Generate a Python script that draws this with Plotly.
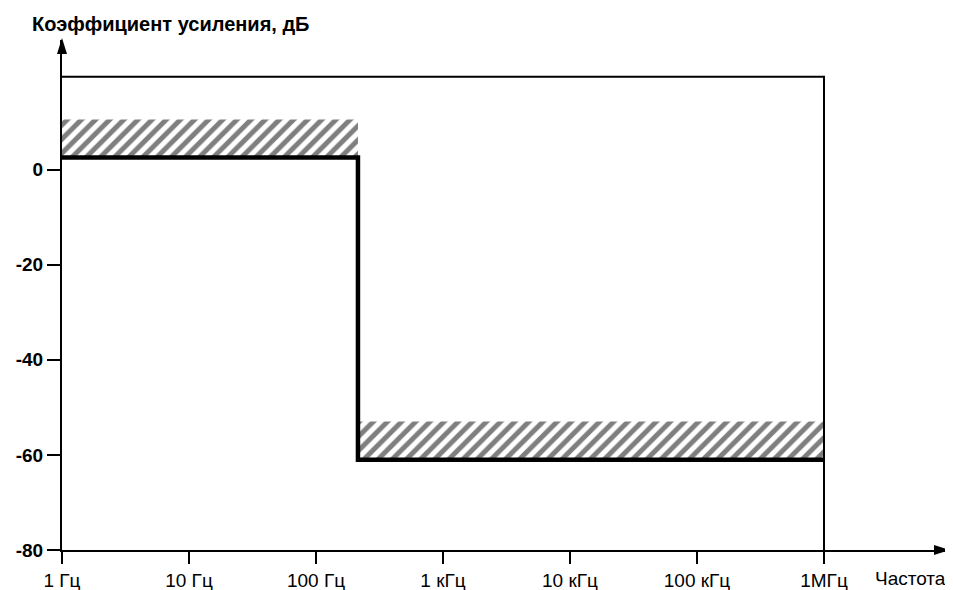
import plotly.graph_objects as go

# ---- data ----
freq_ticks = [1, 10, 100, 1e3, 1e4, 1e5, 1e6]
freq_tick_labels = ["1 Гц", "10 Гц", "100 Гц", "1 кГц", "10 кГц", "100 кГц", "1МГц"]
gain_ticks = [0, -20, -40, -60, -80]
gain_tick_labels = ["0", "-20", "-40", "-60", "-80"]

corner_freq = 214          # Hz, step position
f_start = 1                # Hz
f_stop = 1e6               # Hz
pass_gain = 2.5            # dB
stop_gain = -61            # dB
tolerance = 8              # dB, hatched band height
upper_limit = 19.5         # dB, outer frame

FONT = "Liberation Sans, Arial, sans-serif"

fig = go.Figure()

hatch = dict(shape="/", size=10, solidity=0.5, fgcolor="black", bgcolor="white")

# hatched tolerance band (pass band)
fig.add_trace(go.Scatter(
    x=[f_start, corner_freq, corner_freq, f_start, f_start],
    y=[pass_gain, pass_gain, pass_gain + tolerance, pass_gain + tolerance, pass_gain],
    fill="toself", mode="none", fillcolor="white", fillpattern=hatch,
    hoverinfo="skip", showlegend=False))
# hatched tolerance band (stop band)
fig.add_trace(go.Scatter(
    x=[corner_freq, f_stop, f_stop, corner_freq, corner_freq],
    y=[stop_gain, stop_gain, stop_gain + tolerance, stop_gain + tolerance, stop_gain],
    fill="toself", mode="none", fillcolor="white", fillpattern=hatch,
    hoverinfo="skip", showlegend=False))

# outer frame (upper limit and right limit)
fig.add_trace(go.Scatter(
    x=[f_start, f_stop, f_stop], y=[upper_limit, upper_limit, gain_ticks[-1]],
    mode="lines", line=dict(color="black", width=2),
    hoverinfo="skip", showlegend=False))

# thick step response
fig.add_trace(go.Scatter(
    x=[f_start, corner_freq, corner_freq, f_stop],
    y=[pass_gain, pass_gain, stop_gain, stop_gain],
    mode="lines", line=dict(color="black", width=4.5),
    hoverinfo="skip", showlegend=False))

# page has an 8px body margin: work in figure coordinates = page - 8
OFF = 8
W, H = 953 - OFF, 590 - OFF
L = 62 - OFF
T = 40 - OFF
R = W - (946 - OFF)
B = H - (550 - OFF)
px_per_decade = (824 - 62) / 6.0
x_hi = (W - L - R) / px_per_decade
px_per_db = (550 - 169.5) / 80.0
y_hi = -80 + (H - T - B) / px_per_db

fig.update_layout(
    width=W, height=H,
    margin=dict(l=L, r=R, t=T, b=B, autoexpand=False),
    plot_bgcolor="white", paper_bgcolor="white",
    font=dict(family=FONT, color="black", size=15),
    xaxis=dict(type="log", range=[0, x_hi], automargin=False,
               tickvals=freq_ticks, ticktext=freq_tick_labels,
               showgrid=False, zeroline=False,
               showline=True, linecolor="black", linewidth=2,
               ticks="outside", ticklen=12, tickwidth=2, tickcolor="black",
               tickfont=dict(size=19, family=FONT)),
    yaxis=dict(range=[-80, y_hi], automargin=False,
               tickvals=gain_ticks, ticktext=["<b>%s</b>" % t for t in gain_tick_labels],
               showgrid=False, zeroline=False,
               showline=True, linecolor="black", linewidth=2,
               ticks="outside", ticklen=13, tickwidth=2, tickcolor="black",
               tickfont=dict(size=19, family=FONT)),
    showlegend=False,
)

# arrow heads
fig.add_shape(type="path", xref="paper", yref="paper",
              xsizemode="pixel", ysizemode="pixel", xanchor=1, yanchor=0,
              path="M 4,0 L -12,5 L -12,-5 Z", fillcolor="black", line=dict(width=0))
fig.add_shape(type="path", xref="paper", yref="paper",
              xsizemode="pixel", ysizemode="pixel", xanchor=0, yanchor=1,
              path="M 0,2 L -5,-14 L 5,-14 Z", fillcolor="black", line=dict(width=0))

fig.add_annotation(text="<b>Коэффициент усиления, дБ</b>", xref="paper", yref="paper",
                   x=-(L - (30 - OFF)) / (W - L - R), y=1, yshift=16, xanchor="left", yanchor="middle",
                   showarrow=False, font=dict(size=20, family=FONT))
fig.add_annotation(text="Частота", xref="paper", yref="paper",
                   x=1, y=0, yshift=-28, xshift=2, xanchor="right", yanchor="middle",
                   showarrow=False, font=dict(size=19, family=FONT))

fig.write_html("out.html")
